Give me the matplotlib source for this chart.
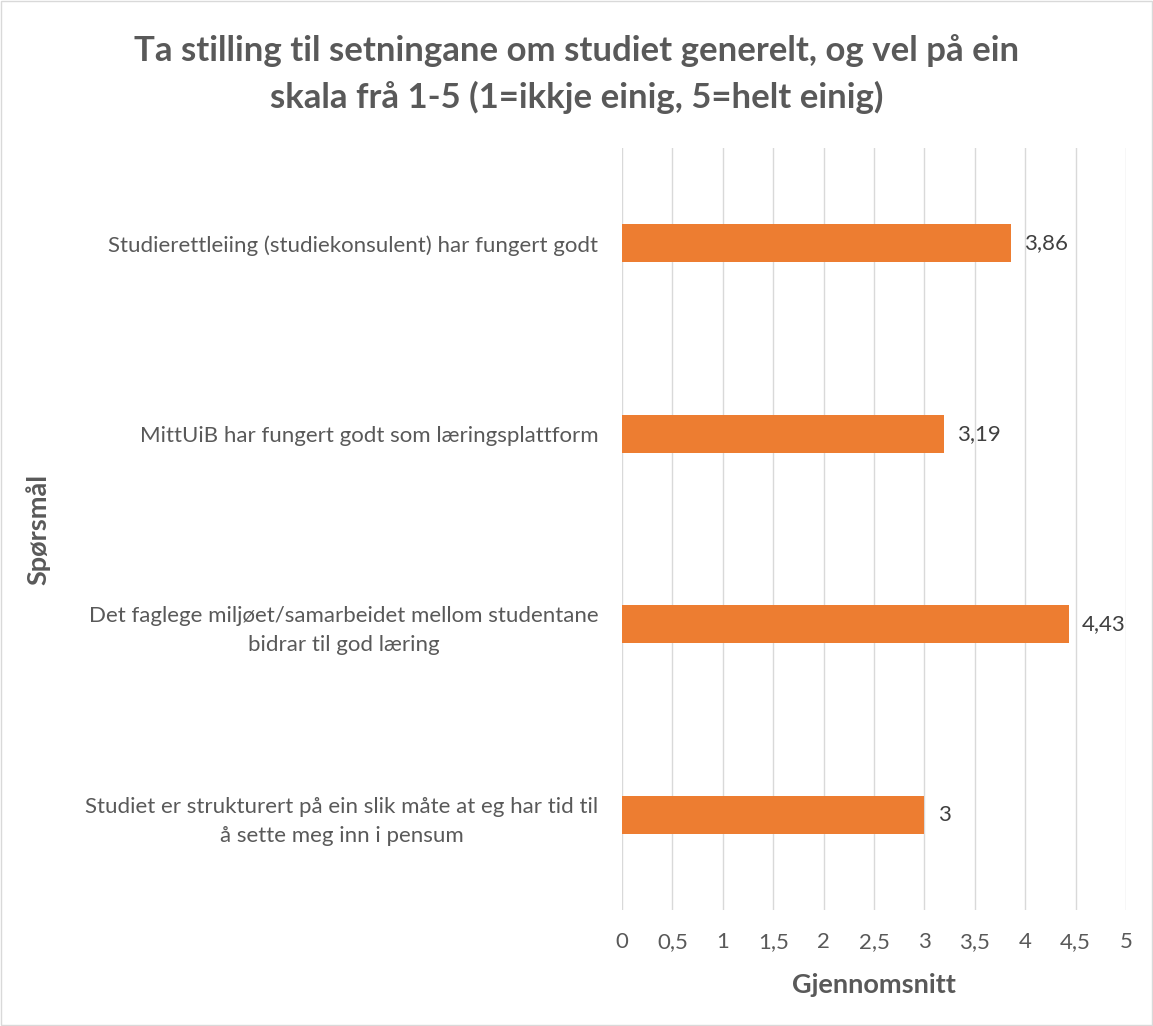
# Søylediagram: gjennomsnitt per spørsmål
import matplotlib
matplotlib.use("Agg")
import matplotlib.pyplot as plt
from matplotlib.patches import Rectangle

# Data
sporsmal = [
    "Studiet er strukturert på ein slik måte at eg har tid til\nå sette meg inn i pensum",
    "Det faglege miljøet/samarbeidet mellom studentane\nbidrar til god læring",
    "MittUiB har fungert godt som læringsplattform",
    "Studierettleiing (studiekonsulent) har fungert godt",
]
gjennomsnitt = [3, 4.43, 3.19, 3.86]
xticks = [0, 0.5, 1, 1.5, 2, 2.5, 3, 3.5, 4, 4.5, 5]

def komma(v):
    s = ("%g" % v)
    return s.replace(".", ",")

plt.rcParams['font.family'] = ['Lato', 'DejaVu Sans']
grå = "#595959"

fig = plt.figure(figsize=(11.53, 10.26), dpi=100)
fig.patches.append(Rectangle((0.001, 0.001), 0.998, 0.998, transform=fig.transFigure,
                             fill=False, edgecolor="#D9D9D9", linewidth=1))
ax = fig.add_axes([0.5395, 0.113, 0.4371, 0.7428])

y = range(len(sporsmal))
ax.barh(y, gjennomsnitt, height=0.2, color="#ED7D31", zorder=3)
for i, v in enumerate(gjennomsnitt):
    ax.text(v + 0.13, i, komma(v), va="center", ha="left", fontsize=16, color="#404040")

ax.set_xlim(0, 5)
ax.set_ylim(-0.5, len(sporsmal) - 0.5)
ax.set_xticks(xticks)
ax.set_xticklabels([komma(t) for t in xticks], fontsize=16, color=grå)
ax.set_yticks(list(y))
ax.set_yticklabels(sporsmal, fontsize=16, color=grå, multialignment="center", linespacing=1.55)
ax.tick_params(axis="x", length=0, pad=16)
ax.tick_params(axis="y", length=0, pad=17)
ax.grid(axis="x", color="#D9D9D9", linewidth=1, zorder=0)
for s in ax.spines.values():
    s.set_visible(False)

ax.set_xlabel("Gjennomsnitt", fontsize=19.5, fontweight="bold", color=grå, labelpad=15)
fig.text(0.033, 0.484, "Spørsmål", rotation=90, ha="center", va="center",
         fontsize=19.5, fontweight="bold", color=grå)
fig.text(0.5, 0.928, "Ta stilling til setningane om studiet generelt, og vel på ein\nskala frå 1-5 (1=ikkje einig, 5=helt einig)",
         ha="center", va="center", fontsize=25, fontweight="bold", color=grå, linespacing=1.5)

fig.savefig("out.png", dpi=100)
